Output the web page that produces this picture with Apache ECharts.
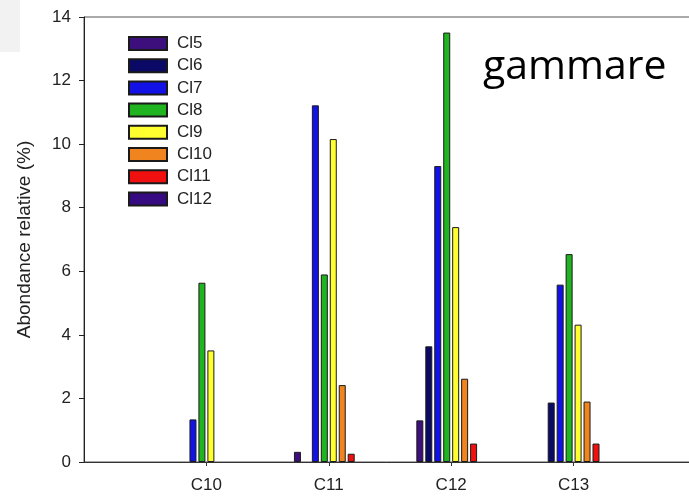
<!DOCTYPE html>
<html>
<head>
<meta charset="utf-8">
<script src="https://cdn.jsdelivr.net/npm/echarts@6/dist/echarts.min.js"></script>
<style>html,body{margin:0;padding:0;background:#fff;}#c{width:689px;height:496px;}</style>
</head>
<body>
<div id="c"></div>
<script>
const categories = ['', 'C10', 'C11', 'C12', 'C13', ''];
const yTicks = [0, 2, 4, 6, 8, 10, 12, 14];
const seriesNames = ['Cl5', 'Cl6', 'Cl7', 'Cl8', 'Cl9', 'Cl10', 'Cl11', 'Cl12'];
const cl5  = [null, null, 0.32, 1.31, null, null];
const cl6  = [null, null, null, 3.64, 1.87, null];
const cl7  = [null, 1.34, 11.22, 9.31, 5.58, null];
const cl8  = [null, 5.64, 5.90, 13.51, 6.54, null];
const cl9  = [null, 3.51, 10.16, 7.39, 4.32, null];
const cl10 = [null, null, 2.42, 2.62, 1.90, null];
const cl11 = [null, null, 0.26, 0.58, 0.58, null];
const cl12 = [null, null, null, null, null, null];
const seriesValues = [cl5, cl6, cl7, cl8, cl9, cl10, cl11, cl12];
const colors = ['#3c0f7c', '#0a0a66', '#1212e6', '#20b520', '#ffff30', '#f0841e', '#f01010', '#360a80'];

const chart = echarts.init(document.getElementById('c'));
const font = 'Liberation Sans, Arial, sans-serif';
chart.setOption({
  animation: false,
  backgroundColor: '#fff',
  grid: { left: 84, top: 17, right: -7, bottom: 34, show: true, borderColor: '#555', borderWidth: 1,
    containLabel: false, outerBoundsMode: 'none' },
  legend: {
    orient: 'vertical', left: 123, top: 30,
    itemWidth: 38, itemHeight: 13, itemGap: 5.2,
    icon: 'rect',
    data: seriesNames,
    textStyle: { fontFamily: font, fontSize: 17, color: '#222', padding: [0, 0, 0, 5] }
  },
  xAxis: {
    type: 'category', data: categories, boundaryGap: false,
    axisLine: { lineStyle: { color: '#333', width: 1 } },
    axisTick: { length: 4, lineStyle: { color: '#333' }, interval: (i, v) => v !== '' },
    axisLabel: { fontFamily: font, fontSize: 17, color: '#222', margin: 15 },
    splitLine: { show: false }
  },
  yAxis: {
    type: 'value', min: 0, max: 14, interval: 2,
    name: 'Abondance relative (%)', nameLocation: 'middle', nameGap: 50,
    nameTextStyle: { fontFamily: font, fontSize: 19, color: '#222' },
    axisLine: { show: true, lineStyle: { color: '#222', width: 1 } },
    axisTick: { show: true, length: 5, lineStyle: { color: '#222' } },
    axisLabel: { fontFamily: font, fontSize: 17, color: '#222', margin: 13,
      formatter: v => yTicks.includes(v) ? String(v) : '' },
    splitLine: { show: false }
  },
  graphic: [
    { type: 'rect', left: 0, top: 0, shape: { width: 20, height: 52 }, style: { fill: '#f2f2f2' }, z: -1 },
    { type: 'text', left: 483, top: 47, style: { text: 'gammare', fontFamily: 'Open Sans, sans-serif', fontSize: 41, fill: '#000' } }
  ],
  series: seriesNames.map((n, i) => ({
    name: n, type: 'bar', data: seriesValues[i],
    barWidth: 7, barGap: '28%',
    itemStyle: { color: colors[i], borderColor: '#1a1a1a', borderWidth: 1 }
  }))
});
</script>
</body>
</html>
